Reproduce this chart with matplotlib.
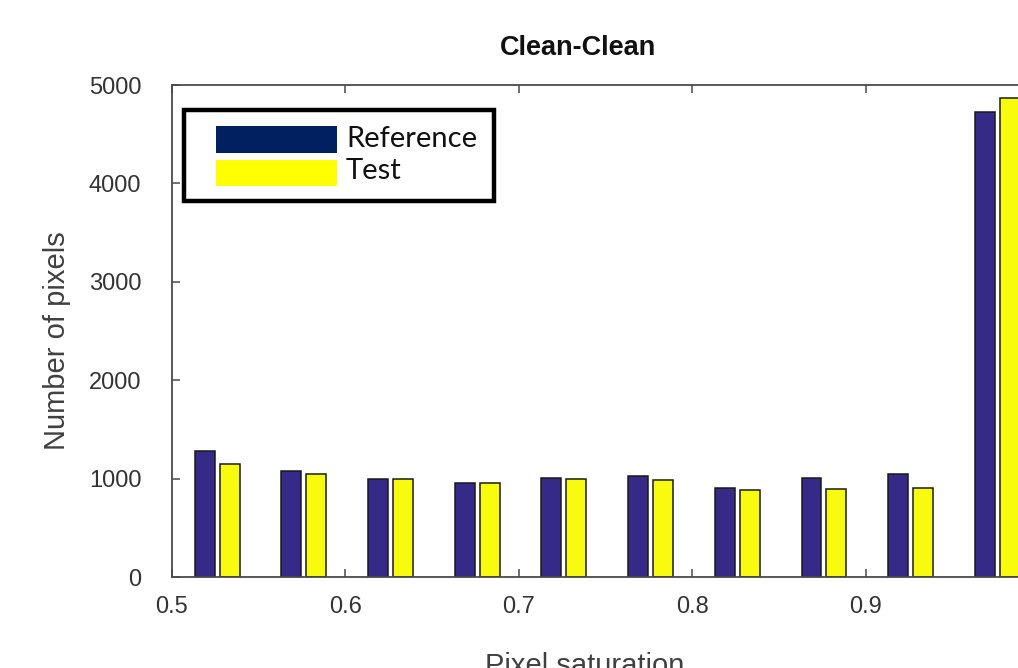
import matplotlib
matplotlib.use("Agg")
import matplotlib.pyplot as plt
from matplotlib.patches import Rectangle
import numpy as np

# ---- data ----
bin_centers = [0.525, 0.575, 0.625, 0.675, 0.725, 0.775, 0.825, 0.875, 0.925, 0.975]
reference = [1277, 1081, 996, 955, 1006, 1026, 908, 1006, 1047, 4722]
test = [1152, 1051, 1000, 951, 993, 990, 888, 898, 904, 4871]
xticks = [0.5, 0.6, 0.7, 0.8, 0.9]
xtick_labels = ["0.5", "0.6", "0.7", "0.8", "0.9"]
yticks = [0, 1000, 2000, 3000, 4000, 5000]
ytick_labels = ["0", "1000", "2000", "3000", "4000", "5000"]
title = "Clean-Clean"
xlabel = "Pixel saturation"
ylabel = "Number of pixels"
legend_labels = ["Reference", "Test"]

W, H = 1018, 668
fig = plt.figure(figsize=(W / 100, H / 100), dpi=100)
fig.patch.set_facecolor("white")

ax_left, ax_right, ax_top, ax_bot = 172, 1039, 85, 577
ax = fig.add_axes([ax_left / W, 1 - ax_bot / H, (ax_right - ax_left) / W, (ax_bot - ax_top) / H])

centers = np.array(bin_centers) + 0.001
off = 0.0072
bw = 0.0115
ax.bar(centers - off, reference, width=bw, color="#352a87", edgecolor="#1a1a1a", linewidth=1.1, zorder=2)
ax.bar(centers + off, test, width=bw, color="#f9fb0e", edgecolor="#1a1a1a", linewidth=1.1, zorder=2)

ax.set_xlim(0.5, 1.0)
ax.set_ylim(0, 5000)
ax.set_xticks(xticks)
ax.set_xticklabels(xtick_labels)
ax.set_yticks(yticks)
ax.set_yticklabels(ytick_labels)

axcol = "#4a4a4a"
for s in ax.spines.values():
    s.set_color(axcol)
    s.set_linewidth(1.3)
ax.tick_params(axis="both", direction="in", length=6, width=1.1, color=axcol,
               labelcolor="#333333", labelsize=17, top=True, right=True)
ax.tick_params(axis="x", pad=14)
ax.tick_params(axis="y", pad=22)
for lab in ax.get_xticklabels() + ax.get_yticklabels():
    lab.set_fontfamily("Liberation Sans")

fig.text(578 / W, 1 - 48 / H, title, ha="center", va="center", fontsize=19.5,
         fontweight="bold", family="Liberation Sans", color="#111111")
fig.text(57 / W, 1 - 341 / H, ylabel, ha="center", va="center", rotation=90,
         fontsize=21, family="Liberation Sans", color="#404040")
fig.text(585 / W, 1 - 674 / H, xlabel, ha="center", va="baseline",
         fontsize=21, family="Liberation Sans", color="#404040")

# ---- legend (overlay box) ----
def fx(px):
    return px / W

def fy(py):
    return 1 - py / H

fig.patches.append(Rectangle((fx(184), fy(201)), fx(494) - fx(184), fy(110) - fy(201),
                             transform=fig.transFigure, facecolor="white",
                             edgecolor="black", linewidth=3.2, zorder=5))
fig.patches.append(Rectangle((fx(216), fy(153)), fx(337) - fx(216), fy(126) - fy(153),
                             transform=fig.transFigure, facecolor="#002060",
                             edgecolor="none", zorder=6))
fig.patches.append(Rectangle((fx(216), fy(186)), fx(337) - fx(216), fy(160) - fy(186),
                             transform=fig.transFigure, facecolor="#ffff00",
                             edgecolor="none", zorder=6))
fig.text(fx(346), fy(139), legend_labels[0], ha="left", va="center", fontsize=21,
         family="Lato", color="#111111", zorder=7)
fig.text(fx(346), fy(171), legend_labels[1], ha="left", va="center", fontsize=21,
         family="Lato", color="#111111", zorder=7)

fig.savefig("out.png", dpi=100, facecolor="white")
